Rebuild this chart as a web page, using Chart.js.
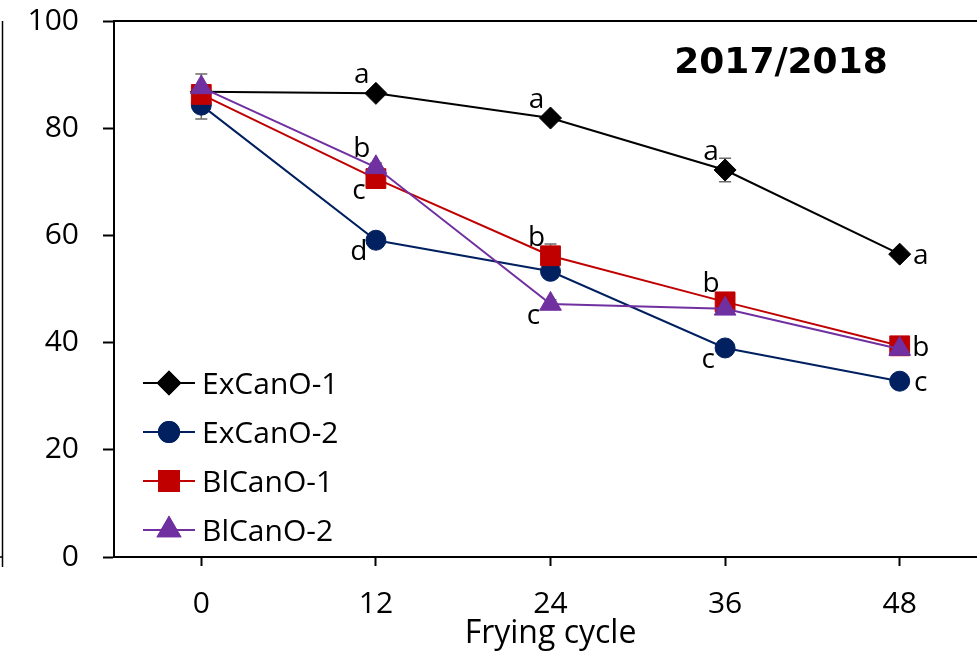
<!DOCTYPE html>
<html>
<head>
<meta charset="utf-8">
<script src="https://cdn.jsdelivr.net/npm/chart.js"></script>
<style>
  html, body { margin: 0; padding: 0; background: #fff; overflow: hidden; }
  #wrap { width: 1000px; height: 659px; }
</style>
</head>
<body>
<div id="wrap"><canvas id="chart1" width="1000" height="659"></canvas></div>
<script>
// frying cycles
var cycles = ['0', '12', '24', '36', '48'];

var exCanO1 = [86.8, 86.5, 81.9, 72.2, 56.5];
var exCanO2 = [84.3, 59.1, 53.3, 39.0, 32.8];
var blCanO1 = [86.3, 70.6, 56.2, 47.6, 39.4];
var blCanO2 = [87.6, 72.7, 47.2, 46.3, 38.8];

// standard deviations
var exCanO1Err = [1.0, 0.8, 0.8, 2.2, 0.8];
var exCanO2Err = [2.6, 0.8, 0.8, 0.8, 0.8];
var blCanO1Err = [1.0, 0.8, 2.2, 0.8, 0.8];
var blCanO2Err = [2.5, 0.8, 0.8, 0.8, 0.8];

// significance letters
var exCanO1Sig = ['', 'a', 'a', 'a', 'a'];
var exCanO2Sig = ['', 'd', '', 'c', 'c'];
var blCanO1Sig = ['', 'c', 'b', 'b', 'b'];
var blCanO2Sig = ['', 'b', 'c', '', ''];

var yTicks = [0, 20, 40, 60, 80, 100];
var panelTitle = '2017/2018';

// where each letter sits next to its point
var sigPlace = {
    'ExCanO-1': ['', 'ul', 'ul', 'ul', 'r'],
    'ExCanO-2': ['', 'll', '', 'll', 'r'],
    'BlCanO-1': ['', 'll', 'ul', 'ul', 'r'],
    'BlCanO-2': ['', 'ul', 'll', '', '']
};
var placeOffset = { ul: [-14, -10], ll: [-17, 20], r: [21, 10] };

var FONT = '"Open Sans", "Noto Sans", sans-serif';

function series(label, data, err, sig, color, style, radius, order) {
    return {
        label: label, data: data, errors: err, sig: sig,
        borderColor: color, backgroundColor: color,
        pointBackgroundColor: color, pointBorderColor: color,
        pointStyle: style, pointRadius: radius, pointHoverRadius: radius,
        pointBorderWidth: 1, borderWidth: 2, tension: 0, order: order
    };
}

var extras = {
    id: 'extras',
    beforeDatasetsDraw: function(chart) {
        var ctx = chart.ctx, y = chart.scales.y;
        ctx.save();
        ctx.strokeStyle = '#6b6b6b';
        ctx.lineWidth = 1.5;
        chart.data.datasets.forEach(function(ds, di) {
            var meta = chart.getDatasetMeta(di);
            ds.data.forEach(function(v, i) {
                var e = ds.errors[i];
                var px = meta.data[i].x;
                var top = y.getPixelForValue(v + e), bot = y.getPixelForValue(v - e);
                ctx.beginPath();
                ctx.moveTo(px, top); ctx.lineTo(px, bot);
                ctx.moveTo(px - 6, top); ctx.lineTo(px + 6, top);
                ctx.moveTo(px - 6, bot); ctx.lineTo(px + 6, bot);
                ctx.stroke();
            });
        });
        ctx.restore();
    },
    afterDraw: function(chart) {
        var ctx = chart.ctx, a = chart.chartArea;
        ctx.save();
        // frame top
        ctx.strokeStyle = '#000';
        ctx.lineWidth = 2;
        ctx.beginPath();
        ctx.moveTo(a.left, a.top); ctx.lineTo(a.right, a.top);
        ctx.stroke();
        // edge of the neighbouring panel
        ctx.lineWidth = 1.5;
        ctx.beginPath();
        ctx.moveTo(2.5, a.top); ctx.lineTo(2.5, a.bottom + 10);
        ctx.moveTo(0, a.bottom); ctx.lineTo(2.5, a.bottom);
        ctx.stroke();

        // significance letters
        ctx.fillStyle = '#000';
        ctx.font = '28px ' + FONT;
        ctx.textAlign = 'center';
        ctx.textBaseline = 'alphabetic';
        chart.data.datasets.forEach(function(ds, di) {
            var meta = chart.getDatasetMeta(di);
            ds.sig.forEach(function(s, i) {
                if (!s) return;
                var off = placeOffset[sigPlace[ds.label][i]];
                ctx.fillText(s, meta.data[i].x + off[0], meta.data[i].y + off[1]);
            });
        });

        // panel title
        ctx.font = 'bold 36px "DejaVu Sans", sans-serif';
        ctx.fillText(panelTitle, a.left + 667, a.top + 52);

        // legend in the lower left corner
        ctx.textAlign = 'left';
        ctx.font = '30px ' + FONT;
        chart.data.datasets.forEach(function(ds, di) {
            var ly = a.bottom - 174 + di * 49;
            var lx = a.left + 29;
            ctx.strokeStyle = ds.borderColor;
            ctx.lineWidth = 2;
            ctx.beginPath();
            ctx.moveTo(lx, ly); ctx.lineTo(lx + 52, ly);
            ctx.stroke();
            Chart.helpers.drawPoint(ctx, {
                pointStyle: ds.pointStyle, radius: ds.pointRadius, borderWidth: 1, rotation: 0
            }, lx + 26, ly);
            ctx.fillStyle = ds.borderColor;
            ctx.strokeStyle = ds.borderColor;
            ctx.fill(); ctx.stroke();
            ctx.fillStyle = '#000';
            ctx.fillText(ds.label, lx + 59, ly + 11);
        });
        ctx.restore();
    }
};

var ctx1 = document.getElementById('chart1').getContext('2d');
new Chart(ctx1, {
    type: 'line',
    plugins: [extras],
    data: {
        labels: cycles,
        datasets: [
            series('ExCanO-1', exCanO1, exCanO1Err, exCanO1Sig, '#000000', 'rectRot', 11, 3),
            series('ExCanO-2', exCanO2, exCanO2Err, exCanO2Sig, '#002060', 'circle', 10, 2),
            series('BlCanO-1', blCanO1, blCanO1Err, blCanO1Sig, '#C00000', 'rect', 14, 1),
            series('BlCanO-2', blCanO2, blCanO2Err, blCanO2Sig, '#7030A0', 'triangle', 12.5, 0)
        ]
    },
    options: {
        responsive: false,
        animation: false,
        layout: { autoPadding: false, padding: { top: 21, right: 13, bottom: 0, left: 0 } },
        plugins: { legend: { display: false }, tooltip: { enabled: false } },
        scales: {
            x: {
                type: 'category',
                offset: true,
                grid: { drawOnChartArea: false, tickLength: 9, tickWidth: 2, tickColor: '#000' },
                border: { display: true, color: '#000', width: 2 },
                ticks: { color: '#000', font: { family: FONT, size: 30 }, padding: 20, maxRotation: 0 },
                title: { display: true, text: 'Frying cycle', color: '#000',
                         font: { family: FONT, size: 32 }, padding: { top: 0, bottom: 6 } },
                afterFit: function(s) { s.height = 102; }
            },
            y: {
                min: 0, max: 100,
                afterBuildTicks: function(s) { s.ticks = yTicks.map(function(v) { return { value: v }; }); },
                grid: { drawOnChartArea: false, tickLength: 11, tickWidth: 2, tickColor: '#000' },
                border: { display: true, color: '#000', width: 2 },
                ticks: { color: '#000', font: { family: FONT, size: 30 }, padding: 24 },
                afterFit: function(s) { s.width = 114; s.paddingTop = 0; }
            }
        }
    }
});
</script>
</body>
</html>
